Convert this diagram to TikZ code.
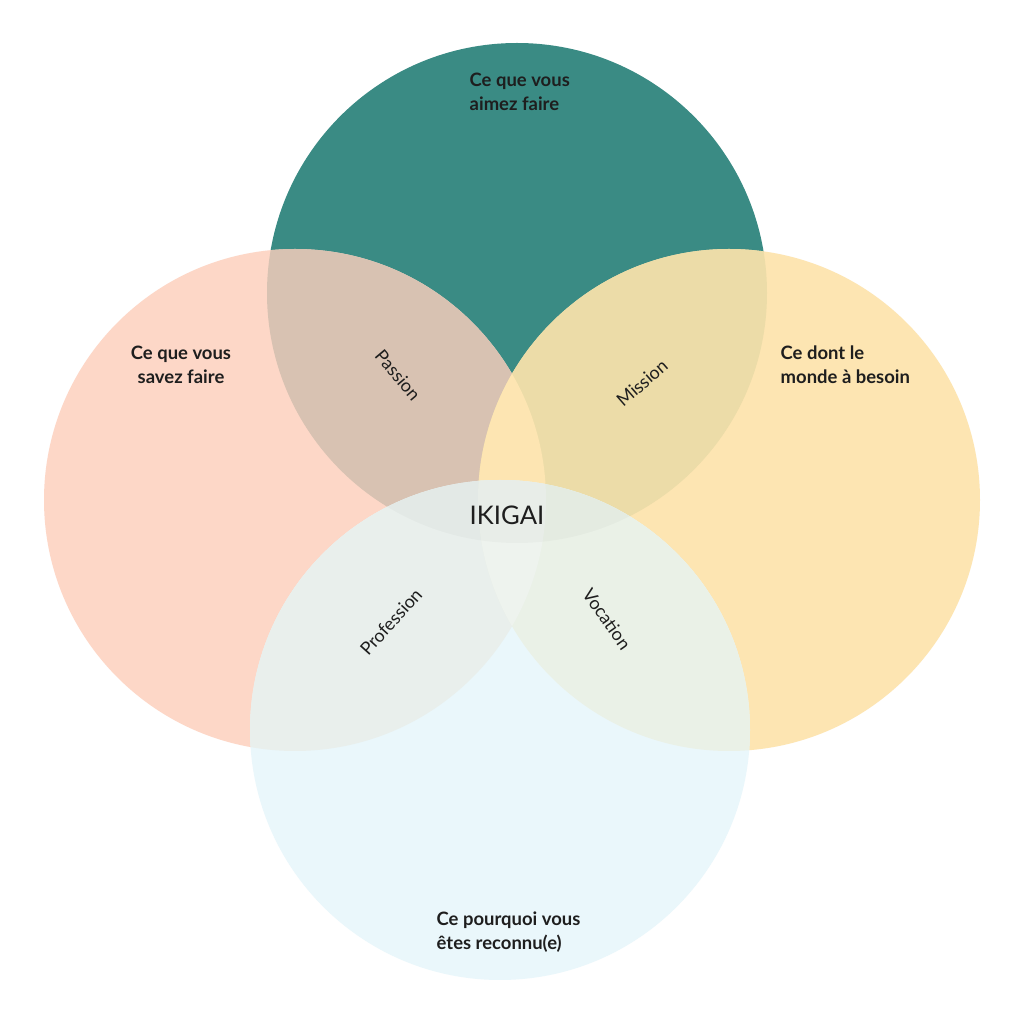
\documentclass[tikz,border=0pt]{standalone}
\usepackage{fontspec}
\setmainfont{Lato}
\definecolor{teal}{HTML}{3A8B84}
\definecolor{peach}{HTML}{FDD7C7}
\definecolor{sand}{HTML}{FDE5B2}
\definecolor{sky}{HTML}{EAF7FB}
\definecolor{passionc}{HTML}{D8C2B2}
\definecolor{missionc}{HTML}{ECDCA8}
\definecolor{professionc}{HTML}{E9EFEC}
\definecolor{vocationc}{HTML}{EAF1E7}
\definecolor{centrec}{HTML}{EEF3EE}
\definecolor{ink}{HTML}{1E1E1E}
\def\circT{(5.17,7.31) circle (2.50)}
\def\circL{(2.95,5.24) circle (2.51)}
\def\circR{(7.29,5.24) circle (2.51)}
\def\circB{(5.00,2.94) circle (2.50)}
\begin{document}
\begin{tikzpicture}
    \tikzset{
        quality/.style={font=\fontsize{5.25}{6.8}\selectfont\bfseries, text=ink, inner sep=0pt},
        overlap/.style={font=\fontsize{5.1}{6}\selectfont, text=ink, inner sep=0pt}
    }
    \useasboundingbox (0,0) rectangle (10.24,10.24);
    \fill[white] (0,0) rectangle (10.24,10.24);
    % the four circles
    \fill[teal] \circT;
    \fill[peach] \circL;
    \fill[sand] \circR;
    \begin{scope}
        \clip \circL;
        \fill[passionc] \circT;
    \end{scope}
    \begin{scope}
        \clip \circR;
        \fill[missionc] \circT;
    \end{scope}
    \begin{scope}
        \clip \circL;
        \fill[sand] \circR;
    \end{scope}
    \fill[sky] \circB;
    \begin{scope}
        \clip \circB;
        \fill[professionc] \circL;
        \fill[vocationc] \circR;
        \begin{scope}
            \clip \circL;
            \fill[centrec] \circR;
        \end{scope}
        \fill[black, opacity=0.025] \circT;
    \end{scope}
    % texts
    \node[quality, anchor=west, align=left] (aimer) at (4.69,9.32) {Ce que vous\\aimez faire};
    \node[quality, align=center] (savoir) at (1.81,6.59) {Ce que vous\\savez faire};
    \node[quality, anchor=west, align=left] (besoin) at (7.80,6.59) {Ce dont le\\monde à besoin};
    \node[quality, anchor=west, align=left] (reconnu) at (4.36,0.92) {Ce pourquoi vous\\êtes reconnu(e)};
    \node[text=ink, inner sep=0pt, font=\fontsize{7.3}{8}\selectfont] (ikigai) at (5.07,5.09) {IKIGAI};
    \node[overlap, rotate=-50] (passion) at (3.98,6.49) {Passion};
    \node[overlap, rotate=41] (mission) at (6.42,6.41) {Mission};
    \node[overlap, rotate=48] (profession) at (3.91,4.02) {Profession};
    \node[overlap, rotate=-55] (vocation) at (6.07,4.05) {Vocation};
\end{tikzpicture}
\end{document}
